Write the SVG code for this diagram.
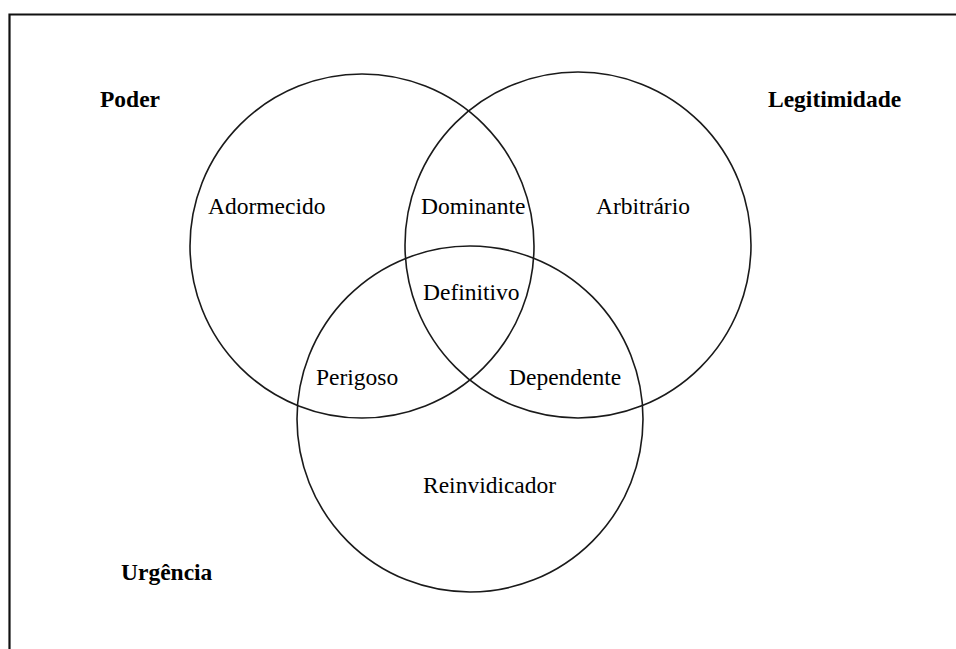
<svg xmlns="http://www.w3.org/2000/svg" width="956" height="649" viewBox="0 0 956 649">
  <style>
    .ring { fill: none; stroke: #1a1a1a; stroke-width: 1.6; }
    .frame { fill: none; stroke: #111; stroke-width: 2.2; }
    .set { font-family: "Liberation Serif", "Times New Roman", serif; font-size: 23.5px; font-weight: bold; fill: #000; }
    .zone { font-family: "Liberation Serif", "Times New Roman", serif; font-size: 23.5px; fill: #000; }
  </style>
  <rect width="956" height="649" fill="#fff"/>
  <path class="frame" d="M9.5 649 V14.5 H956"/>

  <g id="poder">
    <circle class="ring" cx="362" cy="246" r="172"/>
    <text class="set" x="100" y="107">Poder</text>
  </g>
  <g id="legitimidade">
    <circle class="ring" cx="578" cy="245" r="173"/>
    <text class="set" x="768" y="107">Legitimidade</text>
  </g>
  <g id="urgencia">
    <circle class="ring" cx="470" cy="419" r="173"/>
    <text class="set" x="121" y="580">Urgência</text>
  </g>

  <g id="adormecido"><text class="zone" x="208" y="214">Adormecido</text></g>
  <g id="dominante"><text class="zone" x="421" y="214">Dominante</text></g>
  <g id="arbitrario"><text class="zone" x="596" y="214">Arbitrário</text></g>
  <g id="definitivo"><text class="zone" x="423" y="300">Definitivo</text></g>
  <g id="perigoso"><text class="zone" x="316" y="385">Perigoso</text></g>
  <g id="dependente"><text class="zone" x="509" y="385">Dependente</text></g>
  <g id="reinvidicador"><text class="zone" x="423" y="493">Reinvidicador</text></g>
</svg>
